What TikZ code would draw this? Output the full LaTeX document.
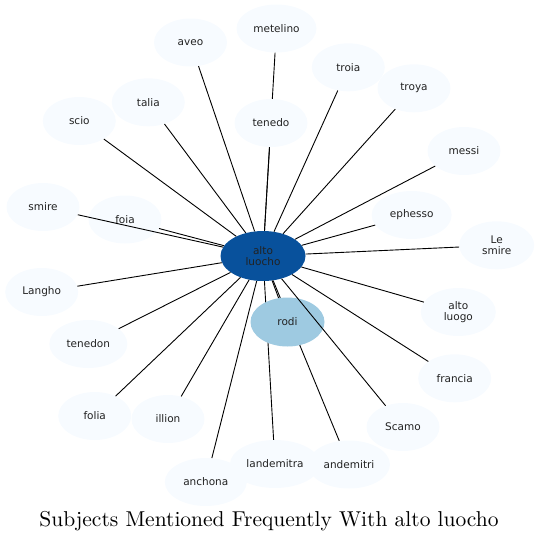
\documentclass[tikz,border=0pt]{standalone}
\usepackage{fontspec}
\newfontfamily\lblfont{DejaVu Sans}
\newfontfamily\titlefont{lmroman10-regular}[Extension=.otf]
\usetikzlibrary{shapes.geometric,backgrounds}
\definecolor{leaf}{HTML}{F7FBFF}
\definecolor{hub}{HTML}{08519C}
\definecolor{near}{HTML}{9ECAE1}
\definecolor{ink}{HTML}{222222}
\begin{document}
\begin{tikzpicture}[x=1pt,y=-1pt,
  leafnode/.style={ellipse, fill=leaf, minimum width=73pt, minimum height=48pt,
    inner sep=0pt, font=\lblfont\fontsize{10.5}{11.7}\selectfont, text=ink, align=center},
  hubnode/.style={leafnode, fill=hub, minimum width=85pt, minimum height=50pt},
  nearnode/.style={leafnode, fill=near, minimum width=74pt, minimum height=49pt},
  link/.style={draw=black, line width=0.9pt}]
\useasboundingbox (0,0) rectangle (539,542);

\node[hubnode] (hub) at (263,256) {alto\\luocho};
\node[nearnode] (rodi) at (287.5,322) {rodi};

\node[leafnode] (aveo) at (190.5,42.5) {aveo};
\node[leafnode, minimum width=80pt] (metelino) at (276.5,28.5) {metelino};
\node[leafnode] (troia) at (348.3,67.3) {troia};
\node[leafnode] (troya) at (414,88.3) {troya};
\node[leafnode] (talia) at (148.3,102.3) {talia};
\node[leafnode] (scio) at (79.3,121) {scio};
\node[leafnode] (tenedo) at (271,123) {tenedo};
\node[leafnode] (messi) at (464,151) {messi};
\node[leafnode] (smire) at (43,207) {smire};
\node[leafnode] (foia) at (125,219.5) {foia};
\node[leafnode, minimum width=80pt] (ephesso) at (411.7,215) {ephesso};
\node[leafnode, minimum width=75pt] (lesmire) at (496.7,245.3) {Le\\smire};
\node[leafnode] (langho) at (41.7,292) {Langho};
\node[leafnode, minimum width=75pt] (altoluogo) at (458.3,312) {alto\\luogo};
\node[leafnode, minimum width=78pt] (tenedon) at (88.3,344) {tenedon};
\node[leafnode] (francia) at (454.7,378.3) {francia};
\node[leafnode] (folia) at (94.7,416) {folia};
\node[leafnode] (illion) at (168,419) {illion};
\node[leafnode] (scamo) at (403,427) {Scamo};
\node[leafnode, minimum width=90pt] (landemitra) at (275,464) {landemitra};
\node[leafnode, minimum width=82pt] (andemitri) at (349,464.5) {andemitri};
\node[leafnode, minimum width=82pt] (anchona) at (205.8,482) {anchona};

\begin{pgfonlayer}{background}
\draw[link] (hub) -- (metelino);
\draw[link] (hub) -- (landemitra);
\draw[link] (hub) -- (andemitri);
\end{pgfonlayer}

\foreach \n in {rodi,aveo,troia,troya,talia,scio,tenedo,messi,smire,foia,ephesso,
  lesmire,langho,altoluogo,tenedon,francia,folia,illion,scamo,anchona}
  \draw[link] (hub) -- (\n);

\node[font=\titlefont\fontsize{21.5}{25}\selectfont, text=black] (title) at (269,521)
  {Subjects Mentioned Frequently With alto luocho};
\end{tikzpicture}
\end{document}
